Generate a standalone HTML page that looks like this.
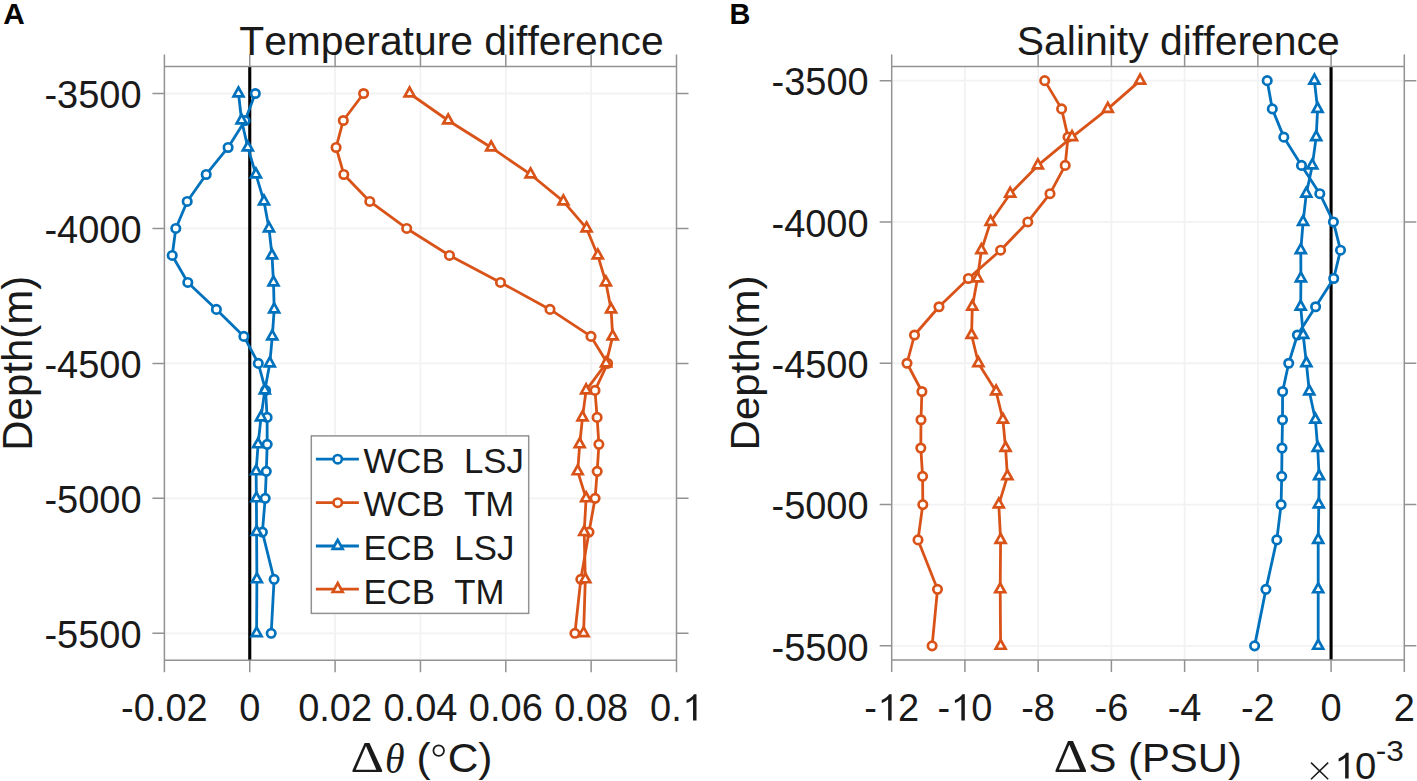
<!DOCTYPE html>
<html><head><meta charset="utf-8"><title>Temperature and salinity difference</title>
<style>
html,body{margin:0;padding:0;background:#fff;}
body{width:1417px;height:781px;overflow:hidden;}
svg{display:block;font-family:"Liberation Sans",sans-serif;}
svg text{fill:#1a1a1a;font-kerning:none;font-feature-settings:"kern" 0;}
</style></head><body>
<svg width="1417" height="781" viewBox="0 0 1417 781">
<rect width="1417" height="781" fill="#fff"/>
<path d="M249.75 66.5V660.3 M335.1 66.5V660.3 M420.45 66.5V660.3 M505.8 66.5V660.3 M591.15 66.5V660.3 M164.4 93.49H676.5 M164.4 228.45H676.5 M164.4 363.4H676.5 M164.4 498.35H676.5 M164.4 633.31H676.5" stroke="#f2f2f4" stroke-width="1.8" fill="none"/>
<path d="M249.75 66.5V660.3" stroke="#000" stroke-width="3.1"/>
<polyline points="255.3,93.49 245.1,120.48 228.1,147.47 206.2,174.46 187.2,201.45 175.8,228.45 172.2,255.44 187.8,282.43 216.4,309.42 243.9,336.41 258.3,363.4 265.6,390.39 267.1,417.38 267.2,444.37 266.3,471.36 265.2,498.35 262.4,532.09 274.1,579.33 271.2,633.31" fill="none" stroke="#0072BD" stroke-width="2.8" stroke-linejoin="round"/>
<circle cx="255.3" cy="93.49" r="4.2" fill="#fff" stroke="#0072BD" stroke-width="2.7"/>
<circle cx="245.1" cy="120.48" r="4.2" fill="#fff" stroke="#0072BD" stroke-width="2.7"/>
<circle cx="228.1" cy="147.47" r="4.2" fill="#fff" stroke="#0072BD" stroke-width="2.7"/>
<circle cx="206.2" cy="174.46" r="4.2" fill="#fff" stroke="#0072BD" stroke-width="2.7"/>
<circle cx="187.2" cy="201.45" r="4.2" fill="#fff" stroke="#0072BD" stroke-width="2.7"/>
<circle cx="175.8" cy="228.45" r="4.2" fill="#fff" stroke="#0072BD" stroke-width="2.7"/>
<circle cx="172.2" cy="255.44" r="4.2" fill="#fff" stroke="#0072BD" stroke-width="2.7"/>
<circle cx="187.8" cy="282.43" r="4.2" fill="#fff" stroke="#0072BD" stroke-width="2.7"/>
<circle cx="216.4" cy="309.42" r="4.2" fill="#fff" stroke="#0072BD" stroke-width="2.7"/>
<circle cx="243.9" cy="336.41" r="4.2" fill="#fff" stroke="#0072BD" stroke-width="2.7"/>
<circle cx="258.3" cy="363.4" r="4.2" fill="#fff" stroke="#0072BD" stroke-width="2.7"/>
<circle cx="265.6" cy="390.39" r="4.2" fill="#fff" stroke="#0072BD" stroke-width="2.7"/>
<circle cx="267.1" cy="417.38" r="4.2" fill="#fff" stroke="#0072BD" stroke-width="2.7"/>
<circle cx="267.2" cy="444.37" r="4.2" fill="#fff" stroke="#0072BD" stroke-width="2.7"/>
<circle cx="266.3" cy="471.36" r="4.2" fill="#fff" stroke="#0072BD" stroke-width="2.7"/>
<circle cx="265.2" cy="498.35" r="4.2" fill="#fff" stroke="#0072BD" stroke-width="2.7"/>
<circle cx="262.4" cy="532.09" r="4.2" fill="#fff" stroke="#0072BD" stroke-width="2.7"/>
<circle cx="274.1" cy="579.33" r="4.2" fill="#fff" stroke="#0072BD" stroke-width="2.7"/>
<circle cx="271.2" cy="633.31" r="4.2" fill="#fff" stroke="#0072BD" stroke-width="2.7"/>
<polyline points="363.6,93.49 343.3,120.48 336.1,147.47 343.8,174.46 369.8,201.45 406.7,228.45 449.5,255.44 500.5,282.43 550,309.42 591,336.41 607.6,363.4 595,390.39 597.1,417.38 598.9,444.37 597.2,471.36 595.1,498.35 589,532.09 580.8,579.33 574.9,633.31" fill="none" stroke="#D95319" stroke-width="2.8" stroke-linejoin="round"/>
<circle cx="363.6" cy="93.49" r="4.2" fill="#fff" stroke="#D95319" stroke-width="2.7"/>
<circle cx="343.3" cy="120.48" r="4.2" fill="#fff" stroke="#D95319" stroke-width="2.7"/>
<circle cx="336.1" cy="147.47" r="4.2" fill="#fff" stroke="#D95319" stroke-width="2.7"/>
<circle cx="343.8" cy="174.46" r="4.2" fill="#fff" stroke="#D95319" stroke-width="2.7"/>
<circle cx="369.8" cy="201.45" r="4.2" fill="#fff" stroke="#D95319" stroke-width="2.7"/>
<circle cx="406.7" cy="228.45" r="4.2" fill="#fff" stroke="#D95319" stroke-width="2.7"/>
<circle cx="449.5" cy="255.44" r="4.2" fill="#fff" stroke="#D95319" stroke-width="2.7"/>
<circle cx="500.5" cy="282.43" r="4.2" fill="#fff" stroke="#D95319" stroke-width="2.7"/>
<circle cx="550" cy="309.42" r="4.2" fill="#fff" stroke="#D95319" stroke-width="2.7"/>
<circle cx="591" cy="336.41" r="4.2" fill="#fff" stroke="#D95319" stroke-width="2.7"/>
<circle cx="607.6" cy="363.4" r="4.2" fill="#fff" stroke="#D95319" stroke-width="2.7"/>
<circle cx="595" cy="390.39" r="4.2" fill="#fff" stroke="#D95319" stroke-width="2.7"/>
<circle cx="597.1" cy="417.38" r="4.2" fill="#fff" stroke="#D95319" stroke-width="2.7"/>
<circle cx="598.9" cy="444.37" r="4.2" fill="#fff" stroke="#D95319" stroke-width="2.7"/>
<circle cx="597.2" cy="471.36" r="4.2" fill="#fff" stroke="#D95319" stroke-width="2.7"/>
<circle cx="595.1" cy="498.35" r="4.2" fill="#fff" stroke="#D95319" stroke-width="2.7"/>
<circle cx="589" cy="532.09" r="4.2" fill="#fff" stroke="#D95319" stroke-width="2.7"/>
<circle cx="580.8" cy="579.33" r="4.2" fill="#fff" stroke="#D95319" stroke-width="2.7"/>
<circle cx="574.9" cy="633.31" r="4.2" fill="#fff" stroke="#D95319" stroke-width="2.7"/>
<polyline points="238.5,93.49 241.6,120.48 247.8,147.47 255.9,174.46 264,201.45 269,228.45 272,255.44 273.5,282.43 274.2,309.42 272.3,336.41 269.8,363.4 264.8,390.39 261,417.38 258.1,444.37 256.1,471.36 256.4,498.35 256.6,532.09 256.9,579.33 256.6,633.31" fill="none" stroke="#0072BD" stroke-width="2.8" stroke-linejoin="round"/>
<polygon points="238.5,87.49 233.55,96.39 243.45,96.39" fill="#fff" stroke="#0072BD" stroke-width="2.7" stroke-linejoin="miter" stroke-miterlimit="10"/>
<polygon points="241.6,114.48 236.65,123.38 246.55,123.38" fill="#fff" stroke="#0072BD" stroke-width="2.7" stroke-linejoin="miter" stroke-miterlimit="10"/>
<polygon points="247.8,141.47 242.85,150.37 252.75,150.37" fill="#fff" stroke="#0072BD" stroke-width="2.7" stroke-linejoin="miter" stroke-miterlimit="10"/>
<polygon points="255.9,168.46 250.95,177.36 260.85,177.36" fill="#fff" stroke="#0072BD" stroke-width="2.7" stroke-linejoin="miter" stroke-miterlimit="10"/>
<polygon points="264,195.45 259.05,204.35 268.95,204.35" fill="#fff" stroke="#0072BD" stroke-width="2.7" stroke-linejoin="miter" stroke-miterlimit="10"/>
<polygon points="269,222.45 264.05,231.35 273.95,231.35" fill="#fff" stroke="#0072BD" stroke-width="2.7" stroke-linejoin="miter" stroke-miterlimit="10"/>
<polygon points="272,249.44 267.05,258.34 276.95,258.34" fill="#fff" stroke="#0072BD" stroke-width="2.7" stroke-linejoin="miter" stroke-miterlimit="10"/>
<polygon points="273.5,276.43 268.55,285.33 278.45,285.33" fill="#fff" stroke="#0072BD" stroke-width="2.7" stroke-linejoin="miter" stroke-miterlimit="10"/>
<polygon points="274.2,303.42 269.25,312.32 279.15,312.32" fill="#fff" stroke="#0072BD" stroke-width="2.7" stroke-linejoin="miter" stroke-miterlimit="10"/>
<polygon points="272.3,330.41 267.35,339.31 277.25,339.31" fill="#fff" stroke="#0072BD" stroke-width="2.7" stroke-linejoin="miter" stroke-miterlimit="10"/>
<polygon points="269.8,357.4 264.85,366.3 274.75,366.3" fill="#fff" stroke="#0072BD" stroke-width="2.7" stroke-linejoin="miter" stroke-miterlimit="10"/>
<polygon points="264.8,384.39 259.85,393.29 269.75,393.29" fill="#fff" stroke="#0072BD" stroke-width="2.7" stroke-linejoin="miter" stroke-miterlimit="10"/>
<polygon points="261,411.38 256.05,420.28 265.95,420.28" fill="#fff" stroke="#0072BD" stroke-width="2.7" stroke-linejoin="miter" stroke-miterlimit="10"/>
<polygon points="258.1,438.37 253.15,447.27 263.05,447.27" fill="#fff" stroke="#0072BD" stroke-width="2.7" stroke-linejoin="miter" stroke-miterlimit="10"/>
<polygon points="256.1,465.36 251.15,474.26 261.05,474.26" fill="#fff" stroke="#0072BD" stroke-width="2.7" stroke-linejoin="miter" stroke-miterlimit="10"/>
<polygon points="256.4,492.35 251.45,501.25 261.35,501.25" fill="#fff" stroke="#0072BD" stroke-width="2.7" stroke-linejoin="miter" stroke-miterlimit="10"/>
<polygon points="256.6,526.09 251.65,534.99 261.55,534.99" fill="#fff" stroke="#0072BD" stroke-width="2.7" stroke-linejoin="miter" stroke-miterlimit="10"/>
<polygon points="256.9,573.33 251.95,582.23 261.85,582.23" fill="#fff" stroke="#0072BD" stroke-width="2.7" stroke-linejoin="miter" stroke-miterlimit="10"/>
<polygon points="256.6,627.31 251.65,636.21 261.55,636.21" fill="#fff" stroke="#0072BD" stroke-width="2.7" stroke-linejoin="miter" stroke-miterlimit="10"/>
<polyline points="409.6,93.49 448.2,120.48 491.2,147.47 530.6,174.46 563.4,201.45 586.6,228.45 597.8,255.44 605.9,282.43 611.1,309.42 612.7,336.41 606.1,363.4 586.1,390.39 582.5,417.38 579.7,444.37 577.7,471.36 586.1,498.35 584.2,532.09 585.3,579.33 583.6,633.31" fill="none" stroke="#D95319" stroke-width="2.8" stroke-linejoin="round"/>
<polygon points="409.6,87.49 404.65,96.39 414.55,96.39" fill="#fff" stroke="#D95319" stroke-width="2.7" stroke-linejoin="miter" stroke-miterlimit="10"/>
<polygon points="448.2,114.48 443.25,123.38 453.15,123.38" fill="#fff" stroke="#D95319" stroke-width="2.7" stroke-linejoin="miter" stroke-miterlimit="10"/>
<polygon points="491.2,141.47 486.25,150.37 496.15,150.37" fill="#fff" stroke="#D95319" stroke-width="2.7" stroke-linejoin="miter" stroke-miterlimit="10"/>
<polygon points="530.6,168.46 525.65,177.36 535.55,177.36" fill="#fff" stroke="#D95319" stroke-width="2.7" stroke-linejoin="miter" stroke-miterlimit="10"/>
<polygon points="563.4,195.45 558.45,204.35 568.35,204.35" fill="#fff" stroke="#D95319" stroke-width="2.7" stroke-linejoin="miter" stroke-miterlimit="10"/>
<polygon points="586.6,222.45 581.65,231.35 591.55,231.35" fill="#fff" stroke="#D95319" stroke-width="2.7" stroke-linejoin="miter" stroke-miterlimit="10"/>
<polygon points="597.8,249.44 592.85,258.34 602.75,258.34" fill="#fff" stroke="#D95319" stroke-width="2.7" stroke-linejoin="miter" stroke-miterlimit="10"/>
<polygon points="605.9,276.43 600.95,285.33 610.85,285.33" fill="#fff" stroke="#D95319" stroke-width="2.7" stroke-linejoin="miter" stroke-miterlimit="10"/>
<polygon points="611.1,303.42 606.15,312.32 616.05,312.32" fill="#fff" stroke="#D95319" stroke-width="2.7" stroke-linejoin="miter" stroke-miterlimit="10"/>
<polygon points="612.7,330.41 607.75,339.31 617.65,339.31" fill="#fff" stroke="#D95319" stroke-width="2.7" stroke-linejoin="miter" stroke-miterlimit="10"/>
<polygon points="606.1,357.4 601.15,366.3 611.05,366.3" fill="#fff" stroke="#D95319" stroke-width="2.7" stroke-linejoin="miter" stroke-miterlimit="10"/>
<polygon points="586.1,384.39 581.15,393.29 591.05,393.29" fill="#fff" stroke="#D95319" stroke-width="2.7" stroke-linejoin="miter" stroke-miterlimit="10"/>
<polygon points="582.5,411.38 577.55,420.28 587.45,420.28" fill="#fff" stroke="#D95319" stroke-width="2.7" stroke-linejoin="miter" stroke-miterlimit="10"/>
<polygon points="579.7,438.37 574.75,447.27 584.65,447.27" fill="#fff" stroke="#D95319" stroke-width="2.7" stroke-linejoin="miter" stroke-miterlimit="10"/>
<polygon points="577.7,465.36 572.75,474.26 582.65,474.26" fill="#fff" stroke="#D95319" stroke-width="2.7" stroke-linejoin="miter" stroke-miterlimit="10"/>
<polygon points="586.1,492.35 581.15,501.25 591.05,501.25" fill="#fff" stroke="#D95319" stroke-width="2.7" stroke-linejoin="miter" stroke-miterlimit="10"/>
<polygon points="584.2,526.09 579.25,534.99 589.15,534.99" fill="#fff" stroke="#D95319" stroke-width="2.7" stroke-linejoin="miter" stroke-miterlimit="10"/>
<polygon points="585.3,573.33 580.35,582.23 590.25,582.23" fill="#fff" stroke="#D95319" stroke-width="2.7" stroke-linejoin="miter" stroke-miterlimit="10"/>
<polygon points="583.6,627.31 578.65,636.21 588.55,636.21" fill="#fff" stroke="#D95319" stroke-width="2.7" stroke-linejoin="miter" stroke-miterlimit="10"/>
<path d="M164.4 66.5H676.5V660.3H164.4Z M164.4 660.3V672.3 M164.4 66.5V54.5 M249.75 660.3V672.3 M249.75 66.5V54.5 M335.1 660.3V672.3 M335.1 66.5V54.5 M420.45 660.3V672.3 M420.45 66.5V54.5 M505.8 660.3V672.3 M505.8 66.5V54.5 M591.15 660.3V672.3 M591.15 66.5V54.5 M676.5 660.3V672.3 M676.5 66.5V54.5 M164.4 93.49H152.4 M676.5 93.49H688.5 M164.4 228.45H152.4 M676.5 228.45H688.5 M164.4 363.4H152.4 M676.5 363.4H688.5 M164.4 498.35H152.4 M676.5 498.35H688.5 M164.4 633.31H152.4 M676.5 633.31H688.5" stroke="#929292" stroke-width="1.5" fill="none"/>
<path d="M964.93 66.5V660 M1038.16 66.5V660 M1111.39 66.5V660 M1184.61 66.5V660 M1257.84 66.5V660 M1331.07 66.5V660 M891.7 80.63H1404.3 M891.7 221.94H1404.3 M891.7 363.25H1404.3 M891.7 504.56H1404.3 M891.7 645.87H1404.3" stroke="#f2f2f4" stroke-width="1.8" fill="none"/>
<path d="M1331.07 66.5V660" stroke="#000" stroke-width="3.1"/>
<polyline points="1267.2,80.63 1272.3,108.89 1283.8,137.15 1301.5,165.42 1319.8,193.68 1333.4,221.94 1340.5,250.2 1333.7,278.46 1315.6,306.73 1297.4,334.99 1288.7,363.25 1282.6,391.51 1282.5,419.77 1282,448.04 1281.7,476.3 1281.1,504.56 1276.8,539.89 1265.9,589.35 1254.6,645.87" fill="none" stroke="#0072BD" stroke-width="2.8" stroke-linejoin="round"/>
<circle cx="1267.2" cy="80.63" r="4.2" fill="#fff" stroke="#0072BD" stroke-width="2.7"/>
<circle cx="1272.3" cy="108.89" r="4.2" fill="#fff" stroke="#0072BD" stroke-width="2.7"/>
<circle cx="1283.8" cy="137.15" r="4.2" fill="#fff" stroke="#0072BD" stroke-width="2.7"/>
<circle cx="1301.5" cy="165.42" r="4.2" fill="#fff" stroke="#0072BD" stroke-width="2.7"/>
<circle cx="1319.8" cy="193.68" r="4.2" fill="#fff" stroke="#0072BD" stroke-width="2.7"/>
<circle cx="1333.4" cy="221.94" r="4.2" fill="#fff" stroke="#0072BD" stroke-width="2.7"/>
<circle cx="1340.5" cy="250.2" r="4.2" fill="#fff" stroke="#0072BD" stroke-width="2.7"/>
<circle cx="1333.7" cy="278.46" r="4.2" fill="#fff" stroke="#0072BD" stroke-width="2.7"/>
<circle cx="1315.6" cy="306.73" r="4.2" fill="#fff" stroke="#0072BD" stroke-width="2.7"/>
<circle cx="1297.4" cy="334.99" r="4.2" fill="#fff" stroke="#0072BD" stroke-width="2.7"/>
<circle cx="1288.7" cy="363.25" r="4.2" fill="#fff" stroke="#0072BD" stroke-width="2.7"/>
<circle cx="1282.6" cy="391.51" r="4.2" fill="#fff" stroke="#0072BD" stroke-width="2.7"/>
<circle cx="1282.5" cy="419.77" r="4.2" fill="#fff" stroke="#0072BD" stroke-width="2.7"/>
<circle cx="1282" cy="448.04" r="4.2" fill="#fff" stroke="#0072BD" stroke-width="2.7"/>
<circle cx="1281.7" cy="476.3" r="4.2" fill="#fff" stroke="#0072BD" stroke-width="2.7"/>
<circle cx="1281.1" cy="504.56" r="4.2" fill="#fff" stroke="#0072BD" stroke-width="2.7"/>
<circle cx="1276.8" cy="539.89" r="4.2" fill="#fff" stroke="#0072BD" stroke-width="2.7"/>
<circle cx="1265.9" cy="589.35" r="4.2" fill="#fff" stroke="#0072BD" stroke-width="2.7"/>
<circle cx="1254.6" cy="645.87" r="4.2" fill="#fff" stroke="#0072BD" stroke-width="2.7"/>
<polyline points="1044.7,80.63 1061.6,108.89 1068,137.15 1065.2,165.42 1050,193.68 1027.8,221.94 1000.6,250.2 968.4,278.46 939,306.73 914.5,334.99 907,363.25 921.9,391.51 921,419.77 920.8,448.04 922.6,476.3 922.8,504.56 918,539.89 937.5,589.35 932.1,645.87" fill="none" stroke="#D95319" stroke-width="2.8" stroke-linejoin="round"/>
<circle cx="1044.7" cy="80.63" r="4.2" fill="#fff" stroke="#D95319" stroke-width="2.7"/>
<circle cx="1061.6" cy="108.89" r="4.2" fill="#fff" stroke="#D95319" stroke-width="2.7"/>
<circle cx="1068" cy="137.15" r="4.2" fill="#fff" stroke="#D95319" stroke-width="2.7"/>
<circle cx="1065.2" cy="165.42" r="4.2" fill="#fff" stroke="#D95319" stroke-width="2.7"/>
<circle cx="1050" cy="193.68" r="4.2" fill="#fff" stroke="#D95319" stroke-width="2.7"/>
<circle cx="1027.8" cy="221.94" r="4.2" fill="#fff" stroke="#D95319" stroke-width="2.7"/>
<circle cx="1000.6" cy="250.2" r="4.2" fill="#fff" stroke="#D95319" stroke-width="2.7"/>
<circle cx="968.4" cy="278.46" r="4.2" fill="#fff" stroke="#D95319" stroke-width="2.7"/>
<circle cx="939" cy="306.73" r="4.2" fill="#fff" stroke="#D95319" stroke-width="2.7"/>
<circle cx="914.5" cy="334.99" r="4.2" fill="#fff" stroke="#D95319" stroke-width="2.7"/>
<circle cx="907" cy="363.25" r="4.2" fill="#fff" stroke="#D95319" stroke-width="2.7"/>
<circle cx="921.9" cy="391.51" r="4.2" fill="#fff" stroke="#D95319" stroke-width="2.7"/>
<circle cx="921" cy="419.77" r="4.2" fill="#fff" stroke="#D95319" stroke-width="2.7"/>
<circle cx="920.8" cy="448.04" r="4.2" fill="#fff" stroke="#D95319" stroke-width="2.7"/>
<circle cx="922.6" cy="476.3" r="4.2" fill="#fff" stroke="#D95319" stroke-width="2.7"/>
<circle cx="922.8" cy="504.56" r="4.2" fill="#fff" stroke="#D95319" stroke-width="2.7"/>
<circle cx="918" cy="539.89" r="4.2" fill="#fff" stroke="#D95319" stroke-width="2.7"/>
<circle cx="937.5" cy="589.35" r="4.2" fill="#fff" stroke="#D95319" stroke-width="2.7"/>
<circle cx="932.1" cy="645.87" r="4.2" fill="#fff" stroke="#D95319" stroke-width="2.7"/>
<polyline points="1314.4,80.63 1317.6,108.89 1316.2,137.15 1312.3,165.42 1306.3,193.68 1303.1,221.94 1300.8,250.2 1300.9,278.46 1300.7,306.73 1303.2,334.99 1306.4,363.25 1309.3,391.51 1315.4,419.77 1317.7,448.04 1319.1,476.3 1318.8,504.56 1318.2,539.89 1318.2,589.35 1318.2,645.87" fill="none" stroke="#0072BD" stroke-width="2.8" stroke-linejoin="round"/>
<polygon points="1314.4,74.63 1309.45,83.53 1319.35,83.53" fill="#fff" stroke="#0072BD" stroke-width="2.7" stroke-linejoin="miter" stroke-miterlimit="10"/>
<polygon points="1317.6,102.89 1312.65,111.79 1322.55,111.79" fill="#fff" stroke="#0072BD" stroke-width="2.7" stroke-linejoin="miter" stroke-miterlimit="10"/>
<polygon points="1316.2,131.15 1311.25,140.05 1321.15,140.05" fill="#fff" stroke="#0072BD" stroke-width="2.7" stroke-linejoin="miter" stroke-miterlimit="10"/>
<polygon points="1312.3,159.42 1307.35,168.32 1317.25,168.32" fill="#fff" stroke="#0072BD" stroke-width="2.7" stroke-linejoin="miter" stroke-miterlimit="10"/>
<polygon points="1306.3,187.68 1301.35,196.58 1311.25,196.58" fill="#fff" stroke="#0072BD" stroke-width="2.7" stroke-linejoin="miter" stroke-miterlimit="10"/>
<polygon points="1303.1,215.94 1298.15,224.84 1308.05,224.84" fill="#fff" stroke="#0072BD" stroke-width="2.7" stroke-linejoin="miter" stroke-miterlimit="10"/>
<polygon points="1300.8,244.2 1295.85,253.1 1305.75,253.1" fill="#fff" stroke="#0072BD" stroke-width="2.7" stroke-linejoin="miter" stroke-miterlimit="10"/>
<polygon points="1300.9,272.46 1295.95,281.36 1305.85,281.36" fill="#fff" stroke="#0072BD" stroke-width="2.7" stroke-linejoin="miter" stroke-miterlimit="10"/>
<polygon points="1300.7,300.73 1295.75,309.63 1305.65,309.63" fill="#fff" stroke="#0072BD" stroke-width="2.7" stroke-linejoin="miter" stroke-miterlimit="10"/>
<polygon points="1303.2,328.99 1298.25,337.89 1308.15,337.89" fill="#fff" stroke="#0072BD" stroke-width="2.7" stroke-linejoin="miter" stroke-miterlimit="10"/>
<polygon points="1306.4,357.25 1301.45,366.15 1311.35,366.15" fill="#fff" stroke="#0072BD" stroke-width="2.7" stroke-linejoin="miter" stroke-miterlimit="10"/>
<polygon points="1309.3,385.51 1304.35,394.41 1314.25,394.41" fill="#fff" stroke="#0072BD" stroke-width="2.7" stroke-linejoin="miter" stroke-miterlimit="10"/>
<polygon points="1315.4,413.77 1310.45,422.67 1320.35,422.67" fill="#fff" stroke="#0072BD" stroke-width="2.7" stroke-linejoin="miter" stroke-miterlimit="10"/>
<polygon points="1317.7,442.04 1312.75,450.94 1322.65,450.94" fill="#fff" stroke="#0072BD" stroke-width="2.7" stroke-linejoin="miter" stroke-miterlimit="10"/>
<polygon points="1319.1,470.3 1314.15,479.2 1324.05,479.2" fill="#fff" stroke="#0072BD" stroke-width="2.7" stroke-linejoin="miter" stroke-miterlimit="10"/>
<polygon points="1318.8,498.56 1313.85,507.46 1323.75,507.46" fill="#fff" stroke="#0072BD" stroke-width="2.7" stroke-linejoin="miter" stroke-miterlimit="10"/>
<polygon points="1318.2,533.89 1313.25,542.79 1323.15,542.79" fill="#fff" stroke="#0072BD" stroke-width="2.7" stroke-linejoin="miter" stroke-miterlimit="10"/>
<polygon points="1318.2,583.35 1313.25,592.25 1323.15,592.25" fill="#fff" stroke="#0072BD" stroke-width="2.7" stroke-linejoin="miter" stroke-miterlimit="10"/>
<polygon points="1318.2,639.87 1313.25,648.77 1323.15,648.77" fill="#fff" stroke="#0072BD" stroke-width="2.7" stroke-linejoin="miter" stroke-miterlimit="10"/>
<polyline points="1140.1,80.63 1107.8,108.89 1072,137.15 1037.9,165.42 1010.2,193.68 990.6,221.94 981.4,250.2 977.5,278.46 972.3,306.73 971.6,334.99 978.4,363.25 996.1,391.51 1002.9,419.77 1005.6,448.04 1007.4,476.3 998.8,504.56 1000.6,539.89 1000.2,589.35 1000.6,645.87" fill="none" stroke="#D95319" stroke-width="2.8" stroke-linejoin="round"/>
<polygon points="1140.1,74.63 1135.15,83.53 1145.05,83.53" fill="#fff" stroke="#D95319" stroke-width="2.7" stroke-linejoin="miter" stroke-miterlimit="10"/>
<polygon points="1107.8,102.89 1102.85,111.79 1112.75,111.79" fill="#fff" stroke="#D95319" stroke-width="2.7" stroke-linejoin="miter" stroke-miterlimit="10"/>
<polygon points="1072,131.15 1067.05,140.05 1076.95,140.05" fill="#fff" stroke="#D95319" stroke-width="2.7" stroke-linejoin="miter" stroke-miterlimit="10"/>
<polygon points="1037.9,159.42 1032.95,168.32 1042.85,168.32" fill="#fff" stroke="#D95319" stroke-width="2.7" stroke-linejoin="miter" stroke-miterlimit="10"/>
<polygon points="1010.2,187.68 1005.25,196.58 1015.15,196.58" fill="#fff" stroke="#D95319" stroke-width="2.7" stroke-linejoin="miter" stroke-miterlimit="10"/>
<polygon points="990.6,215.94 985.65,224.84 995.55,224.84" fill="#fff" stroke="#D95319" stroke-width="2.7" stroke-linejoin="miter" stroke-miterlimit="10"/>
<polygon points="981.4,244.2 976.45,253.1 986.35,253.1" fill="#fff" stroke="#D95319" stroke-width="2.7" stroke-linejoin="miter" stroke-miterlimit="10"/>
<polygon points="977.5,272.46 972.55,281.36 982.45,281.36" fill="#fff" stroke="#D95319" stroke-width="2.7" stroke-linejoin="miter" stroke-miterlimit="10"/>
<polygon points="972.3,300.73 967.35,309.63 977.25,309.63" fill="#fff" stroke="#D95319" stroke-width="2.7" stroke-linejoin="miter" stroke-miterlimit="10"/>
<polygon points="971.6,328.99 966.65,337.89 976.55,337.89" fill="#fff" stroke="#D95319" stroke-width="2.7" stroke-linejoin="miter" stroke-miterlimit="10"/>
<polygon points="978.4,357.25 973.45,366.15 983.35,366.15" fill="#fff" stroke="#D95319" stroke-width="2.7" stroke-linejoin="miter" stroke-miterlimit="10"/>
<polygon points="996.1,385.51 991.15,394.41 1001.05,394.41" fill="#fff" stroke="#D95319" stroke-width="2.7" stroke-linejoin="miter" stroke-miterlimit="10"/>
<polygon points="1002.9,413.77 997.95,422.67 1007.85,422.67" fill="#fff" stroke="#D95319" stroke-width="2.7" stroke-linejoin="miter" stroke-miterlimit="10"/>
<polygon points="1005.6,442.04 1000.65,450.94 1010.55,450.94" fill="#fff" stroke="#D95319" stroke-width="2.7" stroke-linejoin="miter" stroke-miterlimit="10"/>
<polygon points="1007.4,470.3 1002.45,479.2 1012.35,479.2" fill="#fff" stroke="#D95319" stroke-width="2.7" stroke-linejoin="miter" stroke-miterlimit="10"/>
<polygon points="998.8,498.56 993.85,507.46 1003.75,507.46" fill="#fff" stroke="#D95319" stroke-width="2.7" stroke-linejoin="miter" stroke-miterlimit="10"/>
<polygon points="1000.6,533.89 995.65,542.79 1005.55,542.79" fill="#fff" stroke="#D95319" stroke-width="2.7" stroke-linejoin="miter" stroke-miterlimit="10"/>
<polygon points="1000.2,583.35 995.25,592.25 1005.15,592.25" fill="#fff" stroke="#D95319" stroke-width="2.7" stroke-linejoin="miter" stroke-miterlimit="10"/>
<polygon points="1000.6,639.87 995.65,648.77 1005.55,648.77" fill="#fff" stroke="#D95319" stroke-width="2.7" stroke-linejoin="miter" stroke-miterlimit="10"/>
<path d="M891.7 66.5H1404.3V660H891.7Z M891.7 660V672 M891.7 66.5V54.5 M964.93 660V672 M1038.16 660V672 M1038.16 66.5V54.5 M1111.39 660V672 M1111.39 66.5V54.5 M1184.61 660V672 M1184.61 66.5V54.5 M1257.84 660V672 M1257.84 66.5V54.5 M1331.07 660V672 M1331.07 66.5V54.5 M1404.3 660V672 M1404.3 66.5V54.5 M891.7 80.63H879.7 M1404.3 80.63H1416.3 M891.7 221.94H879.7 M1404.3 221.94H1416.3 M891.7 363.25H879.7 M1404.3 363.25H1416.3 M891.7 504.56H879.7 M1404.3 504.56H1416.3 M891.7 645.87H879.7 M1404.3 645.87H1416.3" stroke="#929292" stroke-width="1.5" fill="none"/>
<rect x="311.3" y="435.9" width="217.4" height="177.5" fill="#fff" stroke="#929292" stroke-width="1.5"/>
<path d="M315.9 459.2H358.9" stroke="#0072BD" stroke-width="2.8"/>
<circle cx="337.7" cy="459.2" r="4.2" fill="#fff" stroke="#0072BD" stroke-width="2.7"/>
<path d="M315.9 502.7H358.9" stroke="#D95319" stroke-width="2.8"/>
<circle cx="337.7" cy="502.7" r="4.2" fill="#fff" stroke="#D95319" stroke-width="2.7"/>
<path d="M315.9 546H358.9" stroke="#0072BD" stroke-width="2.8"/>
<polygon points="337.7,540 332.75,548.9 342.65,548.9" fill="#fff" stroke="#0072BD" stroke-width="2.7" stroke-linejoin="miter" stroke-miterlimit="10"/>
<path d="M315.9 589.1H358.9" stroke="#D95319" stroke-width="2.8"/>
<polygon points="337.7,583.1 332.75,592 342.65,592" fill="#fff" stroke="#D95319" stroke-width="2.7" stroke-linejoin="miter" stroke-miterlimit="10"/>
<text transform="translate(3.36 24)" font-size="29.8" font-weight="bold" style="fill:#050505">A</text>
<text transform="translate(729.5 24) scale(0.9700 1)" font-size="29.8" font-weight="bold" style="fill:#050505">B</text>
<text transform="translate(239.21 55) scale(0.9964 1)" font-size="41">Temperature difference</text>
<text transform="translate(1016.8 55) scale(0.9982 1)" font-size="41">Salinity difference</text>
<text transform="translate(141.51 107.8) scale(0.9919 1)" font-size="38.3" text-anchor="end">-3500</text>
<text transform="translate(141.5 242.8) scale(0.9919 1)" font-size="38.3" text-anchor="end">-4000</text>
<text transform="translate(141.5 377.8) scale(0.9919 1)" font-size="38.3" text-anchor="end">-4500</text>
<text transform="translate(141.5 512.8) scale(0.9919 1)" font-size="38.3" text-anchor="end">-5000</text>
<text transform="translate(141.5 647.8) scale(0.9919 1)" font-size="38.3" text-anchor="end">-5500</text>
<text transform="translate(868.73 95) scale(0.9919 1)" font-size="38.3" text-anchor="end">-3500</text>
<text transform="translate(868.6 236.8) scale(0.9919 1)" font-size="38.3" text-anchor="end">-4000</text>
<text transform="translate(868.6 377.6) scale(0.9919 1)" font-size="38.3" text-anchor="end">-4500</text>
<text transform="translate(868.6 519.4) scale(0.9919 1)" font-size="38.3" text-anchor="end">-5000</text>
<text transform="translate(868.6 661.2) scale(0.9919 1)" font-size="38.3" text-anchor="end">-5500</text>
<text transform="translate(164.4 720.5) scale(0.9919 1)" font-size="38.3" text-anchor="middle">-0.02</text>
<text transform="translate(249.75 720.5) scale(0.9919 1)" font-size="38.3" text-anchor="middle">0</text>
<text transform="translate(335.1 720.5) scale(0.9919 1)" font-size="38.3" text-anchor="middle">0.02</text>
<text transform="translate(420.45 720.5) scale(0.9919 1)" font-size="38.3" text-anchor="middle">0.04</text>
<text transform="translate(505.8 720.5) scale(0.9919 1)" font-size="38.3" text-anchor="middle">0.06</text>
<text transform="translate(591.15 720.5) scale(0.9919 1)" font-size="38.3" text-anchor="middle">0.08</text>
<text transform="translate(676.5 720.5) scale(0.9919 1)" font-size="38.3" text-anchor="middle">0.<tspan id="one_xA0_1" style="fill:transparent">1</tspan></text>
<path transform="translate(681.77 720.50) scale(0.01855 -0.01870)" d="M607 0L794 0L794 1409L660 1409C600 1310 470 1190 259 1097L259 931C420 990 530 1060 607 1140Z" fill="#1a1a1a"/>
<text transform="translate(891.7 720.5) scale(0.9919 1)" font-size="38.3" text-anchor="middle">-<tspan id="one_xBm12" style="fill:transparent">1</tspan>2</text>
<path transform="translate(876.89 720.50) scale(0.01855 -0.01870)" d="M607 0L794 0L794 1409L660 1409C600 1310 470 1190 259 1097L259 931C420 990 530 1060 607 1140Z" fill="#1a1a1a"/>
<text transform="translate(964.9 720.5) scale(0.9919 1)" font-size="38.3" text-anchor="middle">-<tspan id="one_xBm10" style="fill:transparent">1</tspan>0</text>
<path transform="translate(950.09 720.50) scale(0.01855 -0.01870)" d="M607 0L794 0L794 1409L660 1409C600 1310 470 1190 259 1097L259 931C420 990 530 1060 607 1140Z" fill="#1a1a1a"/>
<text transform="translate(1038.1 720.5) scale(0.9919 1)" font-size="38.3" text-anchor="middle">-8</text>
<text transform="translate(1111.4 720.5) scale(0.9919 1)" font-size="38.3" text-anchor="middle">-6</text>
<text transform="translate(1184.6 720.5) scale(0.9919 1)" font-size="38.3" text-anchor="middle">-4</text>
<text transform="translate(1257.8 720.5) scale(0.9919 1)" font-size="38.3" text-anchor="middle">-2</text>
<text transform="translate(1331.1 720.5) scale(0.9919 1)" font-size="38.3" text-anchor="middle">0</text>
<text transform="translate(1404.3 720.5) scale(0.9919 1)" font-size="38.3" text-anchor="middle">2</text>
<text transform="translate(363.4 472.7) scale(0.9950 1)" font-size="35">WCB&#160;&#160;LSJ</text>
<text transform="translate(363.4 516.33) scale(0.9950 1)" font-size="35">WCB&#160;&#160;TM</text>
<text transform="translate(363.4 559.96) scale(0.9950 1)" font-size="35">ECB&#160;&#160;LSJ</text>
<text transform="translate(363.4 603.59) scale(0.9950 1)" font-size="35">ECB&#160;&#160;TM</text>
<text transform="translate(31.87 450.69) rotate(-90) scale(0.9866 1)" font-size="42.55">Depth(m)</text>
<text transform="translate(758.67 450.41) rotate(-90) scale(1.0222 1)" font-size="41.09">Depth(m)</text>
<text transform="translate(350.44 772.27) scale(1.1682 1)" font-size="44.74" font-family="Liberation Serif">&#916;</text>
<text transform="translate(384.9 772.81) scale(0.9389 1)" font-size="42.51" font-family="Liberation Serif" font-style="italic">&#952;</text>
<text transform="translate(416.58 771.7) scale(1.0357 1)" font-size="41">(<tspan style="fill:transparent">&#176;</tspan>C)</text>
<text transform="translate(1053.39 772.48) scale(1.1733 1)" font-size="45.71" font-family="Liberation Serif">&#916;</text>
<text transform="translate(1088.4 771.9) scale(1.0220 1)" font-size="41">S&#160;(PSU)</text>
<text transform="translate(1333.79 778.6) scale(1.0208 1)" font-size="37.5"><tspan id="one_m2" style="fill:transparent">1</tspan>0</text>
<path transform="translate(1333.79 778.60) scale(0.01870 -0.01831)" d="M607 0L794 0L794 1409L660 1409C600 1310 470 1190 259 1097L259 931C420 990 530 1060 607 1140Z" fill="#1a1a1a"/>
<text transform="translate(1375.73 761.41) scale(1.0535 1)" font-size="30.05">-3</text>
<circle cx="438.7" cy="750.6" r="5.3" fill="none" stroke="#1a1a1a" stroke-width="1.75"/>
<path d="M1311 762.6L1328.2 779.3M1328.2 762.6L1311 779.3" stroke="#1a1a1a" stroke-width="1.5" fill="none"/>
</svg>
</body></html>
